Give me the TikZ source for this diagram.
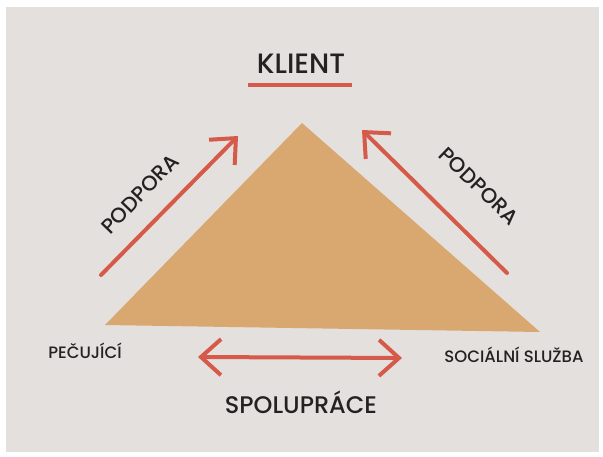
\documentclass[tikz,border=0pt]{standalone}
\usepackage{fontspec}
\setmainfont{Poppins}[UprightFont=* Medium]
\usetikzlibrary{positioning, arrows.meta}
\definecolor{PageB}{HTML}{E4E0DE}
\definecolor{SandA}{HTML}{D9A870}
\definecolor{RedA}{HTML}{D65A4A}
\definecolor{InkA}{HTML}{222222}
\tikzset{
  lbl/.style={text=InkA, inner sep=1pt},
  big/.style={lbl, font=\fontsize{24}{26}\selectfont},
  top/.style={lbl, font=\fontsize{28}{30}\selectfont},
  mid/.style={lbl, font=\fontsize{21}{23}\selectfont},
  small/.style={lbl, font=\fontsize{16.5}{18}\selectfont},
  arr/.style={draw=RedA, line width=4pt, line cap=round, -{Straight Barb[length=20pt,width=36pt]}},
  darr/.style={arr, {Straight Barb[length=20pt,width=36pt]}-{Straight Barb[length=20pt,width=36pt]}}
}

\begin{document}
\begin{tikzpicture}[x=1pt, y=-1pt]
  \useasboundingbox (0,0) rectangle (603,457);
  \fill[white] (0,0) rectangle (603,457);
  \fill[PageB] (6,7) rectangle (599,452);

  % triangle
  \coordinate (apex) at (302,123);
  \coordinate (bl) at (105,325);
  \coordinate (br) at (540,332);
  \fill[SandA] (apex) -- (br) -- (bl) -- cycle;

  \node[top] (klient) at (301,64) {KLIENT};
  \coordinate (ul1) at (248,85);
  \coordinate (ul2) at (352,85);
  \draw[RedA, line width=4pt] (ul1) -- (ul2);

  \node[mid, rotate=46] (podL) at (140,194) {PODPORA};
  \node[mid, rotate=-44] (podR) at (479,186) {PODPORA};

  \node[small] (pec) at (85,351) {PEČUJÍCÍ};
  \node[small] (soc) at (514,355) {SOCIÁLNÍ SLUŽBA};
  \node[big] (spol) at (301,402) {SPOLUPRÁCE};

  \coordinate (l1) at (101,275);
  \coordinate (l2) at (238,136);
  \coordinate (r1) at (507,273);
  \coordinate (r2) at (362,130);
  \coordinate (b1) at (198,357);
  \coordinate (b2) at (402,358);
  \draw[arr] (l1) -- (l2);
  \draw[arr] (r1) -- (r2);
  \draw[darr] (b1) -- (b2);
\end{tikzpicture}
\end{document}
